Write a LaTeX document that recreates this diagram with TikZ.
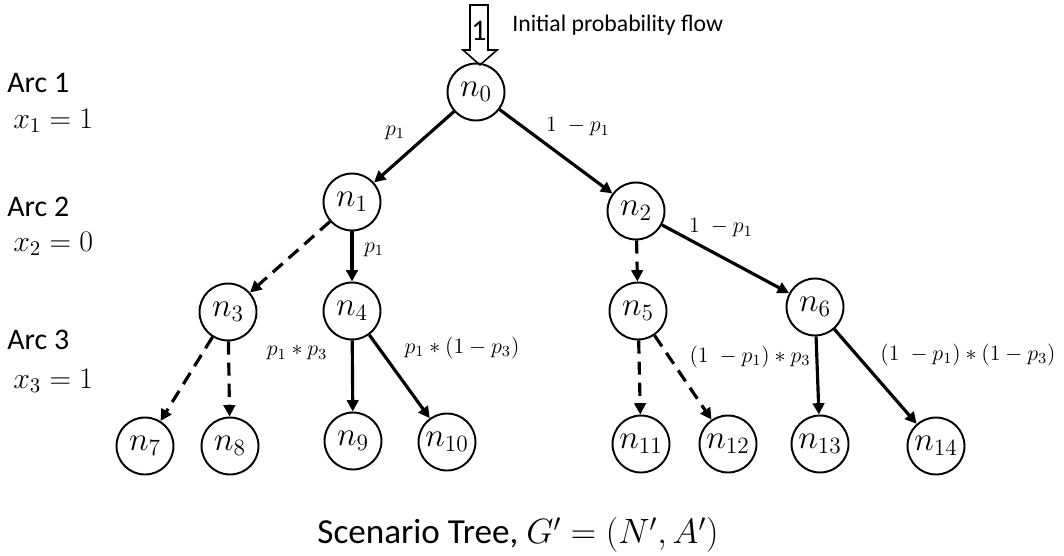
\RequirePackage{fix-cm}
\documentclass[tikz,border=0pt]{standalone}
\usepackage{fontspec}
\setmainfont{Carlito}
\usetikzlibrary{arrows.meta}
\begin{document}
\begin{tikzpicture}[x=0.02cm,y=-0.02cm,
  nd/.style={circle,draw,line width=1.1pt,minimum size=1.14cm,inner sep=0pt,font=\fontsize{19}{19}\selectfont},
  ed/.style={line width=1.8pt,-{Triangle[length=6.5pt,width=6.5pt]}},
  dsh/.style={ed,dash pattern=on 7.5pt off 4.5pt},
  lb/.style={font=\fontsize{12.5}{14}\selectfont, inner sep=0pt},
  side/.style={font=\fontsize{17}{20}\selectfont, anchor=west, inner sep=0pt}]
\useasboundingbox (0,0) rectangle (1064,555);

% nodes
\node[nd] (n0) at (476,92) {$n_0$};
\node[nd] (n1) at (352,202) {$n_1$};
\node[nd] (n2) at (636,211) {$n_2$};
\node[nd] (n3) at (228,312) {$n_3$};
\node[nd] (n4) at (352,311) {$n_4$};
\node[nd] (n5) at (638,311) {$n_5$};
\node[nd] (n6) at (815,307) {$n_6$};
\node[nd] (n7) at (145,446) {$n_7$};
\node[nd] (n8) at (230,446) {$n_8$};
\node[nd] (n9) at (353,441) {$n_9$};
\node[nd] (n10) at (447,442) {$n_{10}$};
\node[nd] (n11) at (641,444) {$n_{11}$};
\node[nd] (n12) at (728,444) {$n_{12}$};
\node[nd] (n13) at (820,444) {$n_{13}$};
\node[nd] (n14) at (936,446) {$n_{14}$};

% edges
\draw[ed] (n0) -- (n1);
\draw[ed] (n0) -- (n2);
\draw[dsh] (n1) -- (n3);
\draw[ed] (n1) -- (n4);
\draw[dsh] (n2) -- (n5);
\draw[ed] (n2) -- (n6);
\draw[dsh] (n3) -- (n7);
\draw[dsh] (n3) -- (n8);
\draw[ed] (n4) -- (n9);
\draw[ed] (n4) -- (n10);
\draw[dsh] (n5) -- (n11);
\draw[dsh] (n5) -- (n12);
\draw[ed] (n6) -- (n13);
\draw[ed] (n6) -- (n14);

% edge labels
\node[lb] (l1) at (395,133) {$p_1$};
\node[lb] (l2) at (578,127) {$1\;-p_1$};
\node[lb] (l3) at (374,250) {$p_1$};
\node[lb] (l4) at (721,228) {$1\;-p_1$};
\node[lb] (l5) at (297,353) {$p_1*p_3$};
\node[lb] (l6) at (462,348) {$p_1*(1-p_3)$};
\node[lb] (l7) at (750,357) {$(1\;-p_1)*p_3$};
\node[lb] (l8) at (968,355) {$(1\;-p_1)*(1-p_3)$};

% initial flow arrow
\draw[line width=0.9pt] (470,5) -- (488,5) -- (488,50) -- (497,50) -- (480,65) -- (463,50) -- (470,50) -- cycle;
\node[font=\fontsize{17}{17}\selectfont, inner sep=0pt] (one) at (479,31) {1};
\node[font=\fontsize{13.5}{16}\selectfont, anchor=west, inner sep=0pt] (init) at (512,25) {Initial probability flow};

% side labels
\node[side] (a1) at (7,83) {Arc 1};
\node[side] (x1) at (13,121) {$x_1=1$};
\node[side] (a2) at (7,207) {Arc 2};
\node[side] (x2) at (13,244) {$x_2=0$};
\node[side] (a3) at (7,340) {Arc 3};
\node[side] (x3) at (13,381) {$x_3=1$};

% caption
\node[font=\fontsize{20}{23}\selectfont, inner sep=0pt] (cap) at (518,535) {Scenario Tree, $G'=(N',A')$};
\end{tikzpicture}
\end{document}
